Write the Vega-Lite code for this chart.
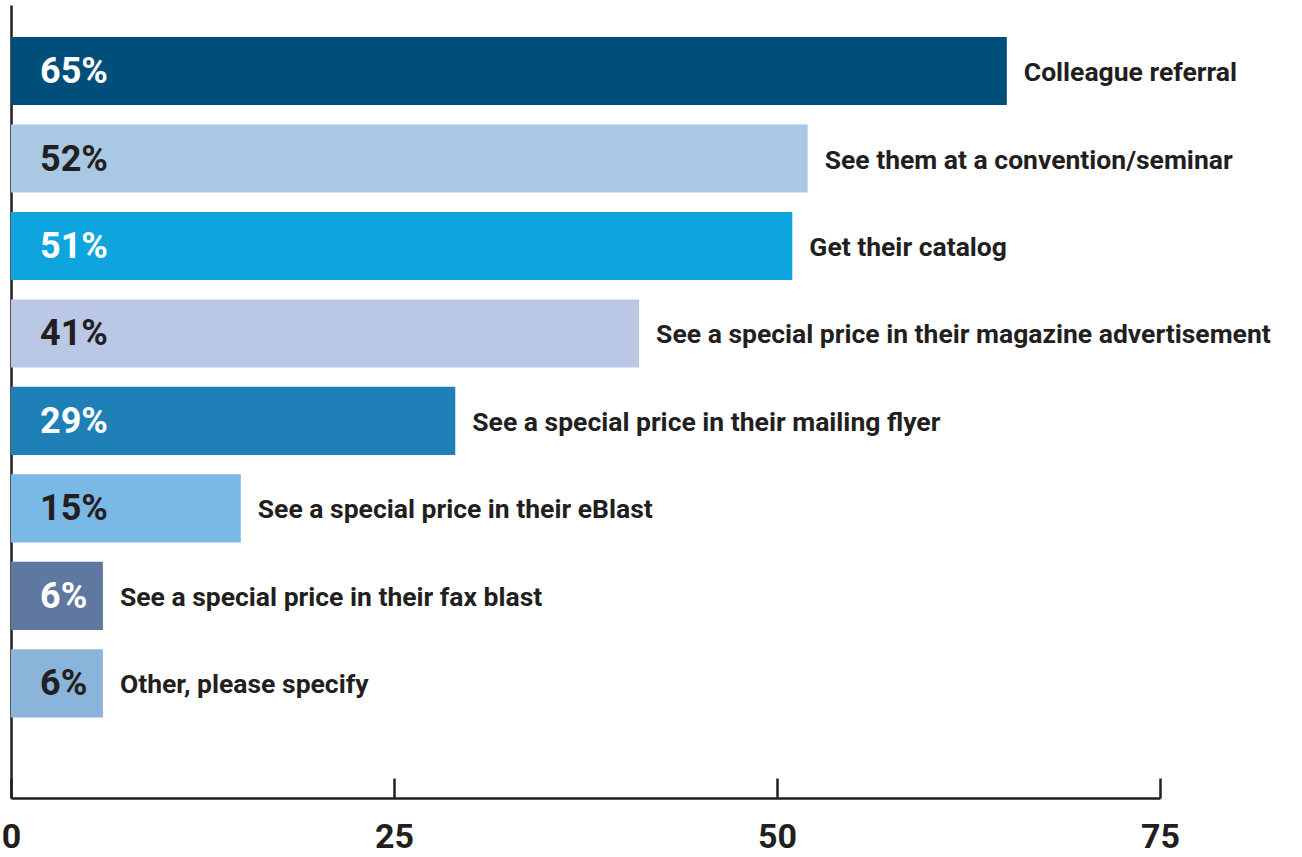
{
  "$schema": "https://vega.github.io/schema/vega-lite/v6.json",
  "width": 1149,
  "height": 793,
  "autosize": {"type": "none"},
  "padding": {"left": 11, "top": 5, "right": 142, "bottom": 59},
  "background": "white",
  "config": {"view": {"stroke": null}},
  "data": {
    "values": [
      {"category": "Colleague referral", "value": 65, "label": "65%"},
      {"category": "See them at a convention/seminar", "value": 52, "label": "52%"},
      {"category": "Get their catalog", "value": 51, "label": "51%"},
      {"category": "See a special price in their magazine advertisement", "value": 41, "label": "41%"},
      {"category": "See a special price in their mailing flyer", "value": 29, "label": "29%"},
      {"category": "See a special price in their eBlast", "value": 15, "label": "15%"},
      {"category": "See a special price in their fax blast", "value": 6, "label": "6%"},
      {"category": "Other, please specify", "value": 6, "label": "6%"}
    ]
  },
  "encoding": {
    "y": {
      "field": "category",
      "type": "nominal",
      "sort": null,
      "scale": {"paddingInner": 0.221, "paddingOuter": 0.643, "align": 0.284},
      "axis": {"title": null, "labels": false, "ticks": false, "domainColor": "#231f20", "domainWidth": 2.5}
    }
  },
  "layer": [
    {
      "mark": {"type": "bar", "clip": false},
      "encoding": {
        "x": {
          "field": "value",
          "type": "quantitative",
          "scale": {"domain": [0, 75], "nice": false, "zero": true},
          "axis": {
            "title": null,
            "values": [0, 25, 50, 75],
            "grid": false,
            "domainColor": "#231f20",
            "domainWidth": 2.5,
            "tickColor": "#231f20",
            "tickWidth": 2.5,
            "tickSize": -20,
            "labelPadding": 42,
            "labelFont": "Roboto",
            "labelFontWeight": "bold",
            "labelFontSize": 34,
            "labelColor": "#231f20",
            "labelFlush": false
          }
        },
        "color": {
          "field": "category",
          "type": "nominal",
          "sort": null,
          "legend": null,
          "scale": {
            "domain": ["Colleague referral", "See them at a convention/seminar", "Get their catalog", "See a special price in their magazine advertisement", "See a special price in their mailing flyer", "See a special price in their eBlast", "See a special price in their fax blast", "Other, please specify"],
            "range": ["#004f7a", "#a9c8e4", "#0ea5df", "#bac8e6", "#1f80b8", "#7ab8e6", "#5f78a0", "#8ab4da"]
          }
        }
      }
    },
    {
      "mark": {"type": "text", "clip": false, "align": "left", "baseline": "middle", "dx": 29, "dy": 1, "font": "Roboto", "fontWeight": "bold", "fontSize": 36},
      "encoding": {
        "x": {"datum": 0, "type": "quantitative", "scale": {"domain": [0, 75], "nice": false}},
        "text": {"field": "label"},
        "color": {
          "field": "category",
          "type": "nominal",
          "legend": null,
          "scale": {
            "domain": ["Colleague referral", "See them at a convention/seminar", "Get their catalog", "See a special price in their magazine advertisement", "See a special price in their mailing flyer", "See a special price in their eBlast", "See a special price in their fax blast", "Other, please specify"],
            "range": ["#ffffff", "#231f20", "#ffffff", "#231f20", "#ffffff", "#231f20", "#ffffff", "#231f20"]
          }
        }
      }
    },
    {
      "mark": {"type": "text", "clip": false, "align": "left", "baseline": "middle", "dx": 17, "dy": 2, "font": "Roboto", "fontWeight": "bold", "fontSize": 26.5, "color": "#231f20"},
      "encoding": {
        "x": {"field": "value", "type": "quantitative", "scale": {"domain": [0, 75], "nice": false}},
        "text": {"field": "category"}
      }
    }
  ],
  "resolve": {"scale": {"color": "independent"}}
}
